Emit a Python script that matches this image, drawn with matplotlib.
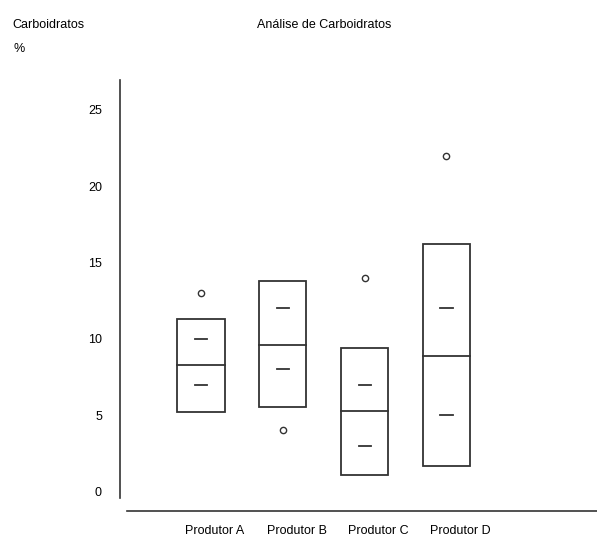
import matplotlib
matplotlib.use("Agg")
import matplotlib.pyplot as plt
import matplotlib.transforms as mtransforms

plt.rcParams['font.family'] = ['Liberation Sans Narrow', 'Liberation Sans', 'DejaVu Sans']

# dados
produtores = ["Produtor A", "Produtor B", "Produtor C", "Produtor D"]
q1 = [5.2, 5.5, 1.1, 1.7]
mediana = [8.3, 9.6, 5.3, 8.9]
q3 = [11.3, 13.8, 9.4, 16.2]
traco_sup = [10.0, 12.0, 7.0, 12.0]
traco_inf = [7.0, 8.0, 3.0, 5.0]
outliers = [13.0, 4.0, 14.0, 22.0]
yticks = [0, 5, 10, 15, 20, 25]

W, H = 597, 537
fig = plt.figure(figsize=(W / 100, H / 100), dpi=100)
ax = fig.add_axes([120 / W, (H - 510.7) / H, 1 - 120 / W, (510.7 - 80) / H])

cor = "#333333"
larg = 0.575
traco = 0.075
pos = range(1, len(produtores) + 1)
for i, x in enumerate(pos):
    ax.add_patch(plt.Rectangle((x - larg / 2, q1[i]), larg, q3[i] - q1[i],
                               fill=False, edgecolor=cor, lw=1.3))
    ax.plot([x - larg / 2, x + larg / 2], [mediana[i]] * 2, color=cor, lw=1.3)
    ax.plot([x - traco, x + traco], [traco_sup[i]] * 2, color=cor, lw=1.3)
    ax.plot([x - traco, x + traco], [traco_inf[i]] * 2, color=cor, lw=1.3)
    ax.plot(x, outliers[i], 'o', mfc='white', mec=cor, ms=4.5, mew=1.0)

ax.set_xlim(0.01, 5.84)
ax.set_ylim(-1.26, 26.95)

for s in ['top', 'right']:
    ax.spines[s].set_visible(False)
ax.spines['left'].set_bounds(-0.43, 26.95)
ax.spines['bottom'].set_bounds(0.095, 5.84)
ax.spines['left'].set_color(cor)
ax.spines['bottom'].set_color(cor)
ax.spines['left'].set_linewidth(1.2)
ax.spines['bottom'].set_linewidth(1.2)

ax.set_yticks(yticks)
ax.set_xticks(list(pos))
ax.set_xticklabels(produtores)
ax.tick_params(axis='both', length=0, labelsize=9, colors='black')
ax.tick_params(axis='y', pad=13)
ax.tick_params(axis='x', pad=10)
desloc = mtransforms.ScaledTranslation(14 / 100, 0, fig.dpi_scale_trans)
for lbl in ax.get_xticklabels():
    lbl.set_transform(lbl.get_transform() + desloc)

fig.text(12 / W, 1 - 25 / H, "Carboidratos", fontsize=9, va='center', ha='left')
fig.text(13 / W, 1 - 49 / H, "%", fontsize=9, va='center', ha='left')
fig.text(324 / W, 1 - 25 / H, "Análise de Carboidratos", fontsize=9, va='center', ha='center')

fig.savefig("out.png", dpi=100)
